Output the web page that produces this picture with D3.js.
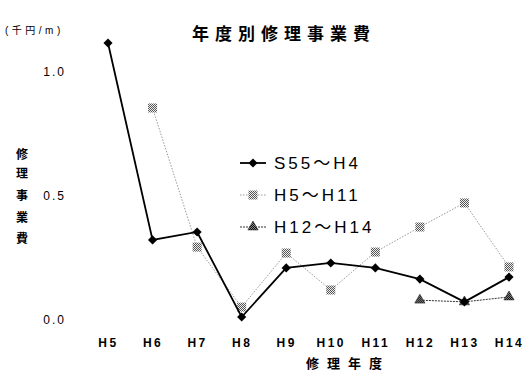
<!DOCTYPE html>
<html><head><meta charset="utf-8">
<script src="https://cdn.jsdelivr.net/npm/d3@7"></script>
<style>
html,body{margin:0;padding:0;background:#fff;}
svg{display:block;font-family:"Liberation Sans",Arial,"Noto Sans CJK JP",sans-serif;}
</style></head>
<body>
<script>
const categories = ["H5","H6","H7","H8","H9","H10","H11","H12","H13","H14"];
const seriesNames = ["S55～H4","H5～H11","H12～H14"];
const s55h4 = [1.117,0.323,0.355,0.012,0.21,0.23,0.21,0.165,0.073,0.173];
const h5h11 = [null,0.855,0.294,0.052,0.27,0.121,0.274,0.375,0.472,0.214];
const h12h14 = [null,null,null,null,null,null,null,0.08,0.073,0.093];
const yTicks = [0.0,0.5,1.0];

const W=526,H=375;
const svg=d3.select("body").append("svg").attr("width",W).attr("height",H);
const defs=svg.append("defs");
function checker(id,a,b){
  const p=defs.append("pattern").attr("id",id).attr("width",2).attr("height",2).attr("patternUnits","userSpaceOnUse");
  p.append("rect").attr("width",2).attr("height",2).attr("fill",b);
  p.append("rect").attr("width",1).attr("height",1).attr("fill",a);
  p.append("rect").attr("x",1).attr("y",1).attr("width",1).attr("height",1).attr("fill",a);
}
checker("chkGray","#555","#eee");
checker("chkDark","#111","#888");

const x=d3.scalePoint().domain(categories).range([108,509]);
const y=d3.scaleLinear().domain([0,1]).range([320,72]);

// title
svg.append("text").attr("x",192).attr("y",40).attr("font-size",17).attr("font-weight","bold")
  .attr("letter-spacing",6).text("年度別修理事業費");
// unit
svg.append("text").attr("x",5).attr("y",34).attr("font-size",10).attr("letter-spacing",3.5).text("(千円/m)");

// y axis tick labels
const yAxis=d3.axisLeft(y).tickValues(yTicks).tickFormat(d3.format(".1f")).tickSize(0).tickPadding(0);
const gy=svg.append("g").attr("transform","translate(66,0)").call(yAxis);
gy.select(".domain").remove();
gy.selectAll("text").attr("font-size",12).attr("font-family","'Liberation Sans',Arial,sans-serif")
  .attr("letter-spacing",2).attr("fill","#000");

// x axis tick labels
const xAxis=d3.axisBottom(x).tickSize(0).tickPadding(0);
const gx=svg.append("g").attr("transform","translate(0,338)").call(xAxis);
gx.select(".domain").remove();
gx.selectAll("text").attr("font-size",12).attr("font-weight","bold").attr("font-family","'Liberation Sans',Arial,sans-serif")
  .attr("letter-spacing",2.5).attr("fill","#000");

// y axis title vertical
const ytitle="修理事業費".split("");
const ty=[155,174,196,218,239];
svg.append("g").selectAll("text").data(ytitle).join("text")
  .attr("x",22).attr("y",(d,i)=>ty[i]+4).attr("text-anchor","middle")
  .attr("font-size",12).attr("font-weight","bold").text(d=>d);

// x axis title
svg.append("text").attr("x",306).attr("y",368).attr("font-size",13).attr("font-weight","bold")
  .attr("letter-spacing",8).text("修理年度");

const line=d3.line().defined(d=>d.v!=null).x(d=>x(d.c)).y(d=>y(d.v));
const toPts=arr=>arr.map((v,i)=>({c:categories[i],v}));

const styles=[
  {data:s55h4,stroke:"#000",width:1.8,dash:null},
  {data:h5h11,stroke:"#999",width:1,dash:"1.5,1.5"},
  {data:h12h14,stroke:"#333",width:1,dash:"2,1"}
];
function drawMarker(g,k,cx,cy){
  if(k===0){
    g.append("path").attr("d",d3.symbol().type(d3.symbolSquare).size(42)())
      .attr("transform",`translate(${cx},${cy}) rotate(45)`).attr("fill","#000");
  } else if(k===1){
    g.append("rect").attr("x",cx-4.5).attr("y",cy-4.5).attr("width",9).attr("height",9).attr("fill","url(#chkGray)");
  } else {
    g.append("path").attr("d",d3.symbol().type(d3.symbolTriangle).size(45)())
      .attr("transform",`translate(${cx},${cy})`).attr("fill","url(#chkDark)").attr("stroke","#222").attr("stroke-width",0.6);
  }
}
[1,2,0].forEach(k=>{
  const s=styles[k];
  const pts=toPts(s.data);
  svg.append("path").datum(pts).attr("d",line).attr("fill","none")
    .attr("stroke",s.stroke).attr("stroke-width",s.width).attr("stroke-dasharray",s.dash);
  const g=svg.append("g");
  pts.filter(d=>d.v!=null).forEach(d=>drawMarker(g,k,x(d.c),y(d.v)));
});

// legend
const ly=[163,195,227];
seriesNames.forEach((name,k)=>{
  const s=styles[k];
  const g=svg.append("g");
  g.append("line").attr("x1",240).attr("x2",266).attr("y1",ly[k]).attr("y2",ly[k])
    .attr("stroke",s.stroke).attr("stroke-width",s.width).attr("stroke-dasharray",s.dash);
  drawMarker(g,k,253,ly[k]);
  g.append("text").attr("x",274).attr("y",ly[k]+6).attr("font-size",17).attr("letter-spacing",3)
    .text(name);
});
</script>
</body></html>
